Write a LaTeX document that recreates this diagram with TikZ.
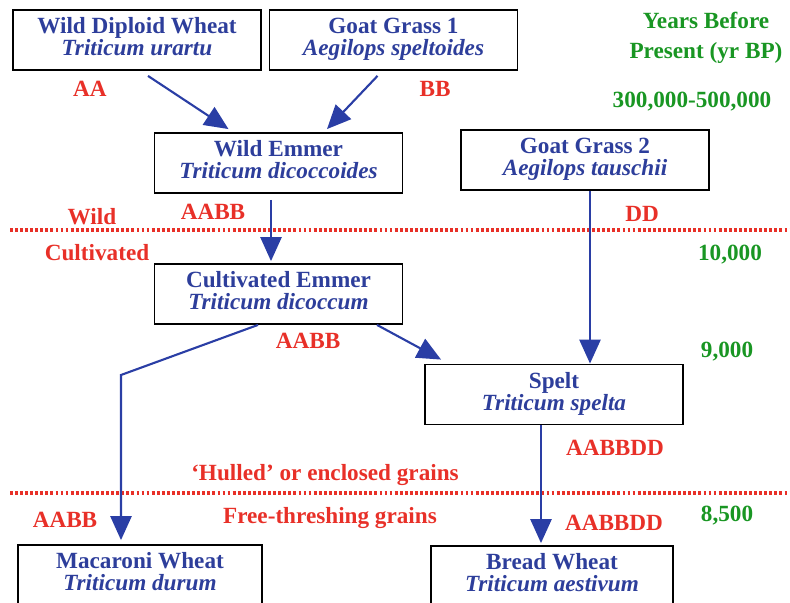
\documentclass[tikz,border=0pt]{standalone}
\usepackage{fontspec}
\setmainfont{Liberation Serif}
\usetikzlibrary{arrows.meta}

\definecolor{spblue}{RGB}{45,62,155}
\definecolor{arblue}{RGB}{42,62,165}
\definecolor{gnred}{RGB}{232,48,40}
\definecolor{yrgreen}{RGB}{25,150,35}

\newcommand{\latin}[1]{\itshape #1\rule[-4.5pt]{0pt}{4.5pt}}

\tikzset{
  species/.style={draw=black, line width=1.3pt, minimum width=6.2cm, minimum height=1.5cm,
    align=center, text=spblue, font=\fontsize{16.5}{15.5}\selectfont\bfseries, inner sep=2pt},
  genome/.style={text=gnred, font=\fontsize{16.5}{18}\selectfont\bfseries},
  years/.style={text=yrgreen, font=\fontsize{16.5}{21}\selectfont\bfseries, align=center},
  descent/.style={arblue, line width=1.5pt, -{Triangle[length=17pt,width=15pt]}},
  era/.style={gnred, line width=2.2pt, dash pattern=on 2pt off 1.6pt}
}

\begin{document}
\begin{tikzpicture}[x=0.025cm, y=-0.025cm]

    \useasboundingbox (0,0) rectangle (790,603);

    % species boxes
    \node[species] (wd)  at (137,40)    {Wild Diploid Wheat\\\latin{Triticum urartu}};
    \node[species] (gg1) at (393.5,40)  {Goat Grass 1\\\latin{Aegilops speltoides}};
    \node[species] (we)  at (278.5,163) {Wild Emmer\\\latin{Triticum dicoccoides}};
    \node[species] (gg2) at (585,160)   {Goat Grass 2\\\latin{Aegilops tauschii}};
    \node[species] (ce)  at (278.5,294) {Cultivated Emmer\\\latin{Triticum dicoccum}};
    \node[species, minimum width=6.45cm] (sp) at (554,394.5) {Spelt\\\latin{Triticum spelta}};
    \node[species, minimum width=6.1cm]  (mw) at (140,575)   {Macaroni Wheat\\\latin{Triticum durum}};
    \node[species, minimum width=6.05cm] (bw) at (552,576)   {Bread Wheat\\\latin{Triticum aestivum}};

    % genomes
    \node[genome] (aa)   at (90,89)   {AA};
    \node[genome] (bb)   at (435,89)  {BB};
    \node[genome] (ab1)  at (213,212) {AABB};
    \node[genome] (dd)   at (642,214) {DD};
    \node[genome] (ab2)  at (308,341) {AABB};
    \node[genome] (abd1) at (615,448) {AABBDD};
    \node[genome] (ab3)  at (65,520)  {AABB};
    \node[genome] (abd2) at (614,523) {AABBDD};

    % zones
    \node[genome] (wild)  at (92,217)  {Wild};
    \node[genome] (cult)  at (97,253)  {Cultivated};
    \node[genome] (hull)  at (325,475) {`Hulled' or enclosed grains};
    \node[genome] (free)  at (330,518) {Free-threshing grains};
    \coordinate (w0) at (10,230);  \coordinate (w1) at (790,230);
    \coordinate (h0) at (10,493);  \coordinate (h1) at (790,493);
    \draw[era] (w0) -- (w1);
    \draw[era] (h0) -- (h1);

    % years before present
    \node[years] (ybp)  at (706,38)  {Years Before\\Present (yr BP)};
    \node[years] (y300) at (692,102) {300,000-500,000};
    \node[years] (y10)  at (730,255) {10,000};
    \node[years] (y9)   at (727,352) {9,000};
    \node[years] (y85)  at (727,516) {8,500};

    % descent
    \coordinate (bend) at (121,375);
    \draw[descent] ([shift={(11,5)}]wd.south) -- ([shift={(-50,-3)}]we.north);
    \draw[descent] ([shift={(-16,5)}]gg1.south) -- ([shift={(48.5,-3)}]we.north);
    \draw[descent] ([shift={(-7.5,6)}]we.south) -- ([shift={(-7.5,-2)}]ce.north);
    \draw[descent] ([shift={(-20.5,0)}]ce.south) -- (bend) -- ([shift={(-19,-4)}]mw.north);
    \draw[descent] ([shift={(98.5,0)}]ce.south) -- ([shift={(17,-4)}]sp.north west);
    \draw[descent] ([shift={(5,0)}]gg2.south) -- ([shift={(36,0)}]sp.north);
    \draw[descent] ([shift={(-13,0)}]sp.south) -- ([shift={(-11,-2)}]bw.north);

\end{tikzpicture}
\end{document}
